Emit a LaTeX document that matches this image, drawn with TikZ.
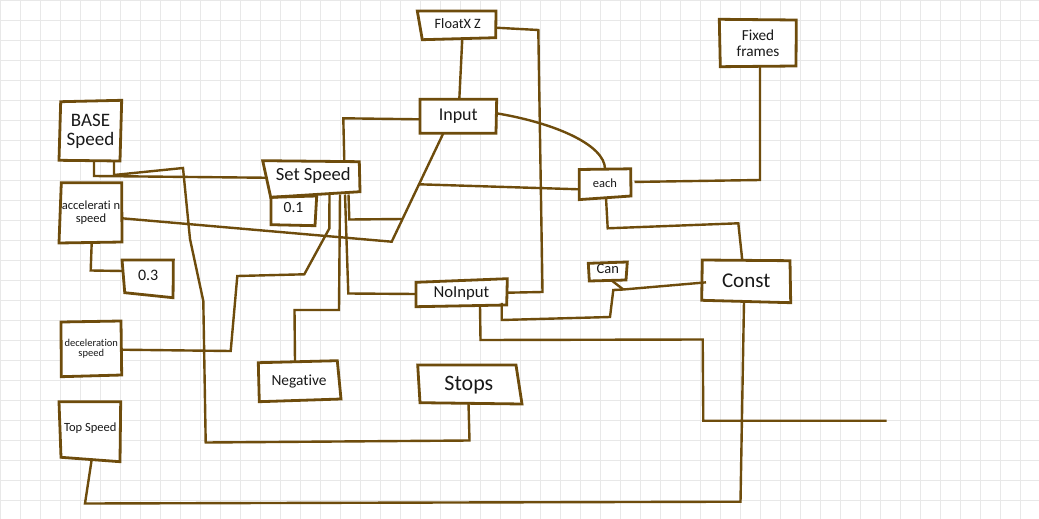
\documentclass[tikz,border=0pt]{standalone}
\usepackage{fontspec}
\setmainfont{Carlito}[Ligatures={NoCommon}]
\usetikzlibrary{calc}
\definecolor{wirec}{RGB}{110,76,12}
\definecolor{gridc}{RGB}{232,232,232}
\definecolor{txtc}{RGB}{25,25,25}
\pgfdeclarelayer{bg}
\pgfsetlayers{bg,main}
\newcommand\setfs[2]{\fontsize{#1}{#2}\selectfont}
\newcommand\skewbox[5]{%
  \begin{pgfonlayer}{bg}
  \fill[white] ($(#1.north west)+(#2)$) -- ($(#1.north east)+(#3)$) -- ($(#1.south east)+(#4)$) -- ($(#1.south west)+(#5)$) -- cycle;
  \end{pgfonlayer}
  \draw[boxline] ($(#1.north west)+(#2)$) -- ($(#1.north east)+(#3)$) -- ($(#1.south east)+(#4)$) -- ($(#1.south west)+(#5)$) -- cycle;}
\begin{document}
\begin{tikzpicture}[x=1pt,y=-1pt,
  wire/.style={draw=wirec,line width=2.4pt,line join=miter},
  boxline/.style={draw=wirec,line width=2.8pt,line join=miter},
  box/.style={rectangle,inner sep=0pt,outer sep=0pt,align=center,text=txtc},
  tb/.style={text height=#1,text depth=0pt}]
\useasboundingbox (0,0) rectangle (1039,519);
\begin{pgfonlayer}{bg}
\fill[white] (0,0) rectangle (1039,519);
\foreach \i in {0,...,51} \draw[gridc,line width=1pt] (20*\i+0.7,0) -- (20*\i+0.7,519);
\foreach \j in {0,...,25} \draw[gridc,line width=1pt] (0,20*\j+0.5) -- (1039,20*\j+0.5);
\end{pgfonlayer}

% nodes
\node[box,minimum width=61pt,minimum height=60pt,font={\setfs{19}{19}}] (base) at (90.5,131) {BASE\\Speed};
\node[box,minimum width=62pt,minimum height=60pt,font={\setfs{12.5}{12.4}}] (acc) at (91,212.5) {accelerati n\\speed};
\node[box,minimum width=50.3pt,minimum height=35pt,tb=6.4pt,font={\setfs{16}{16}}] (p3) at (148.2,277.5) {0.3};
\node[box,minimum width=60.5pt,minimum height=54.5pt,font={\setfs{10.5}{10.3}}] (dec) at (91.25,348.75) {deceleration\\speed};
\node[box,minimum width=60.5pt,minimum height=57.8pt,tb=2.2pt,font={\setfs{12.5}{12.5}}] (top) at (90.25,430.6) {Top Speed};
\node[box,minimum width=93pt,minimum height=33.5pt,tb=5.9pt,font={\setfs{18.6}{18.6}}] (ss) at (313.2,177.75) {Set Speed};
\node[box,minimum width=45pt,minimum height=28.7pt,tb=3.7pt,font={\setfs{15.5}{15.5}}] (p1) at (293.5,210.85) {0.1};
\node[box,minimum width=76.5pt,minimum height=34pt,tb=7.4pt,font={\setfs{18}{18}}] (inp) at (458.25,116.3) {Input};
\node[box,minimum width=76pt,minimum height=27.7pt,tb=8.3pt,font={\setfs{14.3}{14.3}}] (fx) at (457.8,24.85) {FloatX Z};
\node[box,minimum width=51.6pt,minimum height=28.8pt,tb=7.8pt,font={\setfs{12.5}{12.5}}] (each) at (605,183.4) {each};
\node[box,minimum width=76.4pt,minimum height=46.8pt,font={\setfs{15.3}{16.5}}] (ff) at (758,43) {Fixed\\frames};
\node[box,minimum width=88.3pt,minimum height=41.2pt,tb=13.6pt,font={\setfs{21}{21}}] (cst) at (746.15,280.9) {Const};
\node[box,minimum width=37.9pt,minimum height=17.9pt,tb=3.6pt,font={\setfs{14.5}{14.5}}] (can) at (607.75,271.55) {Can};
\node[box,minimum width=91pt,minimum height=25.3pt,tb=9pt,font={\setfs{16.7}{16.7}}] (noi) at (461.5,293.15) {NoInput};
\node[box,minimum width=80.4pt,minimum height=38.6pt,tb=8pt,font={\setfs{15.4}{15.4}}] (neg) at (299,381) {Negative};
\node[box,minimum width=100.2pt,minimum height=38.3pt,tb=11.7pt,font={\setfs{22}{22}}] (stp) at (468.9,384.15) {Stops};

% outlines
\skewbox{base}{0.7,0.7}{0.7,-0.7}{-1,0}{-1,-0.7}
\skewbox{acc}{1.3,0.2}{-0.3,0.2}{0,-0.5}{-1,0.5}
\skewbox{p3}{-1,0}{0,0}{-0.3,2.7}{1.7,-2.3}
\skewbox{dec}{0,0.5}{-0.5,-0.5}{0.2,-1}{0.3,0.7}
\skewbox{top}{-1,0}{0.2,0}{-0.5,2.2}{1,-2.2}
\skewbox{ss}{-4,-0.3}{-0.4,0.7}{0.3,-2.8}{4,2.8}
\skewbox{p1}{0,0.8}{0.7,-0.5}{-1,0.5}{0,-0.5}
\skewbox{inp}{0,0}{0.2,0}{-0.5,0}{0,0}
\skewbox{fx}{-2.5,0}{0.2,0}{-0.1,-1}{2.5,1}
\skewbox{each}{0.1,0.5}{-0.1,-0.2}{0.2,-1.8}{0,1.8}
\skewbox{ff}{-0.5,-0.3}{0.1,0.4}{-0.2,-0.4}{0.5,0.3}
\skewbox{cst}{0.3,-0.3}{-0.3,0.4}{0.4,1.2}{-0.3,-1.2}
\skewbox{can}{-0.5,0.7}{0.6,-0.6}{-0.7,-0.5}{0.5,0.5}
\skewbox{noi}{0,1.8}{0.3,-1.8}{-0.3,-0.8}{0,0.9}
\skewbox{neg}{-0.5,1}{-1.9,-1}{1.8,-1.3}{0.5,1.4}
\skewbox{stp}{-1.1,0}{-3,0}{3,0.7}{1.2,-0.6}

% junctions and free end
\coordinate (j1) at (402.5,219);
\coordinate (j2) at (419,184.3);
\coordinate (j3) at (623.3,289.5);
\coordinate (endA) at (886.7,420.7);

% connectors
\draw[wire] (base.south -| 94,0) -- (94,176) -- (ss.west);
\draw[wire] (base.south -| 114,0) -- (114,175) -- (183,168) -- (190,239) -- (203.3,301) -- (205.7,442.5) -- (469.5,440.5) -- (stp.south -| 468.5,0);
\draw[wire] (acc.east |- 0,218.3) -- (391.7,241.7) -- (inp.south -| 443.3,0);
\draw[wire] (acc.south -| 91.7,0) -- (90.7,270.5) -- (p3.west |- 0,271);
\draw[wire] (dec.east |- 0,349.7) -- (230.7,351) -- (237.3,276) -- (304.3,274.3) -- (329.3,228.5) -- (ss.south -| 329.5,0);
\draw[wire] (ss.south -| 340,0) -- (339,310) -- (294.5,310) -- (neg.north -| 295,0);
\draw[wire] (ss.south -| 345,0) -- (348.3,293.5) -- (noi.west |- 0,294);
\draw[wire] (ss.south -| 348.5,0) -- (349.3,219.5) -- (j1);
\draw[wire] (ss.north -| 344.3,0) -- (343.3,118.3) -- (inp.west |- 0,119.3);
\draw[wire] (fx.south -| 462.3,0) -- (inp.north -| 459.3,0);
\draw[wire] (fx.east |- 0,27.7) -- (538.3,30) -- (542.5,292) -- (noi.east |- 0,292.7);
\draw[wire] (inp.east |- 0,113.3) .. controls (555,123) and (605,145) .. (each.north -| 605,0);
\draw[wire] (j2) -- (each.west |- 0,189.3);
\draw[wire,shorten <=3.7pt] (each.east |- 0,182) -- (760,180) -- (ff.south -| 760,0);
\draw[wire] (each.south -| 606,0) -- (607.7,228.3) -- (738.3,223.3) -- (cst.north -| 742.3,0);
\draw[wire,shorten <=-4pt,shorten >=-3pt] (cst.west |- 0,282.7) -- (j3) -- (613.3,290) -- (610,317) -- (501.7,320) -- (noi.south -| 501.7,0);
\draw[wire] (can.south -| 611.7,0) -- (j3);
\draw[wire] (noi.south -| 480,0) -- (480.5,340) -- (702.7,339.5) -- (703.3,420.7) -- (endA);
\draw[wire] (top.south -| 91.7,0) -- (85,503.5) -- (740.5,501.7) -- (cst.south -| 744,0);
\end{tikzpicture}
\end{document}
